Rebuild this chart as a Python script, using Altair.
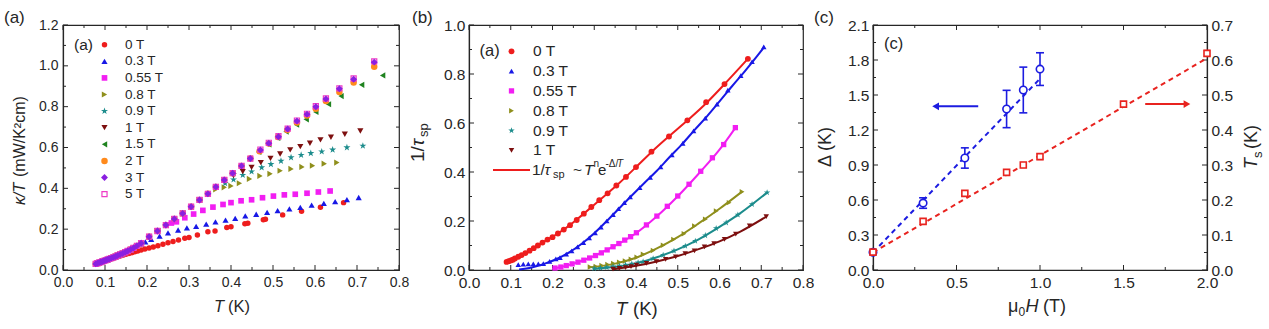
import altair as alt
import pandas as pd

FONT = "Liberation Sans"
FG = "#262626"

# ================= data: panel (a) kappa/T vs T =================
SERIES_A = ["0 T", "0.3 T", "0.55 T", "0.8 T", "0.9 T", "1 T", "1.5 T", "2 T", "3 T", "5 T"]
DRAW_ORDER_A = ["0 T", "0.3 T", "0.55 T", "0.8 T", "0.9 T", "1 T", "1.5 T", "2 T", "5 T", "3 T"]
COLORS = {"0 T": "#ee1d1d", "0.3 T": "#1818e6", "0.55 T": "#f21ef2", "0.8 T": "#8f8f1c",
          "0.9 T": "#1c8c8c", "1 T": "#7d0f0f", "1.5 T": "#1f831f", "2 T": "#ff8a1c",
          "3 T": "#8a1fe0", "5 T": "#ee3cc6"}

# points where the field curves coincide (read once, shared below each curve's departure)
T_SHARED = [0.078, 0.082, 0.086, 0.090, 0.094, 0.098, 0.102, 0.106, 0.110, 0.115, 0.120, 0.125,
            0.130, 0.136, 0.142, 0.148, 0.154, 0.161, 0.168, 0.176, 0.186, 0.205, 0.225, 0.245,
            0.265, 0.285, 0.305, 0.325, 0.345, 0.364, 0.384, 0.404, 0.425, 0.446]
K_SHARED = [0.030, 0.033, 0.036, 0.039, 0.042, 0.045, 0.048, 0.051, 0.054, 0.058, 0.062, 0.066,
            0.071, 0.076, 0.081, 0.087, 0.093, 0.100, 0.108, 0.118, 0.131, 0.163, 0.191, 0.220,
            0.250, 0.277, 0.310, 0.343, 0.373, 0.407, 0.441, 0.474, 0.510, 0.546]
DEPART_A = {"0.3 T": 0.18, "0.55 T": 0.25, "0.8 T": 0.35, "0.9 T": 0.37, "1 T": 0.40,
            "1.5 T": 0.45, "2 T": 0.45, "3 T": 0.45, "5 T": 0.45}

A_T = {
    "0 T": [0.080, 0.084, 0.088, 0.092, 0.096, 0.100, 0.105, 0.110, 0.115, 0.120, 0.126, 0.132,
            0.138, 0.144, 0.150, 0.157, 0.164, 0.171, 0.178, 0.186, 0.195, 0.205, 0.215, 0.226,
            0.238, 0.250, 0.262, 0.275, 0.290, 0.300, 0.320, 0.345, 0.362, 0.390, 0.400, 0.433,
            0.440, 0.477, 0.482, 0.523, 0.568, 0.613, 0.668],
    "0.3 T": [0.186, 0.196, 0.210, 0.230, 0.250, 0.274, 0.295, 0.317, 0.341, 0.363, 0.387, 0.410,
              0.434, 0.460, 0.486, 0.511, 0.539, 0.565, 0.592, 0.621, 0.648, 0.676, 0.704],
    "0.55 T": [0.258, 0.270, 0.290, 0.311, 0.333, 0.357, 0.381, 0.400, 0.424, 0.449, 0.475,
               0.501, 0.527, 0.553, 0.581, 0.608, 0.636],
    "0.8 T": [0.364, 0.384, 0.400, 0.420, 0.444, 0.469, 0.493, 0.517, 0.543, 0.569, 0.594,
              0.622, 0.652],
    "0.9 T": [0.386, 0.406, 0.428, 0.449, 0.473, 0.495, 0.519, 0.543, 0.567, 0.590, 0.616,
              0.642, 0.676, 0.714],
    "1 T": [0.406, 0.428, 0.449, 0.471, 0.494, 0.517, 0.541, 0.565, 0.588, 0.613, 0.638,
            0.671, 0.708],
    "1.5 T": [0.466, 0.490, 0.511, 0.531, 0.556, 0.579, 0.602, 0.632, 0.662, 0.711, 0.761],
    "2 T": [0.468, 0.490, 0.512, 0.534, 0.557, 0.581, 0.602, 0.626, 0.658, 0.692, 0.741],
    "3 T": [0.470, 0.490, 0.513, 0.535, 0.557, 0.581, 0.602, 0.626, 0.658, 0.692, 0.741],
    "5 T": [0.470, 0.490, 0.513, 0.535, 0.557, 0.581, 0.602, 0.626, 0.658, 0.692, 0.741],
}
A_K = {
    "0 T": [0.030, 0.033, 0.036, 0.039, 0.042, 0.045, 0.048, 0.052, 0.055, 0.058, 0.062, 0.066,
            0.070, 0.073, 0.077, 0.081, 0.085, 0.089, 0.093, 0.098, 0.103, 0.108, 0.113, 0.119,
            0.126, 0.133, 0.140, 0.147, 0.155, 0.159, 0.171, 0.187, 0.191, 0.208, 0.212, 0.227,
            0.229, 0.246, 0.249, 0.270, 0.288, 0.307, 0.330],
    "0.3 T": [0.128, 0.138, 0.150, 0.166, 0.182, 0.196, 0.206, 0.214, 0.225, 0.236, 0.244, 0.253,
              0.265, 0.273, 0.282, 0.291, 0.299, 0.307, 0.318, 0.326, 0.335, 0.345, 0.355],
    "0.55 T": [0.230, 0.236, 0.256, 0.274, 0.292, 0.308, 0.321, 0.330, 0.339, 0.344, 0.354,
               0.362, 0.368, 0.371, 0.376, 0.382, 0.387],
    "0.8 T": [0.395, 0.405, 0.412, 0.425, 0.446, 0.461, 0.471, 0.486, 0.495, 0.505, 0.511,
              0.521, 0.526],
    "0.9 T": [0.425, 0.443, 0.465, 0.482, 0.502, 0.518, 0.534, 0.551, 0.563, 0.572, 0.580,
              0.589, 0.600, 0.608],
    "1 T": [0.462, 0.482, 0.503, 0.526, 0.547, 0.568, 0.588, 0.604, 0.621, 0.637, 0.650,
            0.665, 0.681],
    "1.5 T": [0.578, 0.615, 0.647, 0.678, 0.712, 0.738, 0.774, 0.812, 0.852, 0.907, 0.953],
    "2 T": [0.582, 0.619, 0.651, 0.686, 0.723, 0.757, 0.790, 0.828, 0.872, 0.918, 0.995],
    "3 T": [0.588, 0.621, 0.653, 0.691, 0.730, 0.763, 0.800, 0.838, 0.888, 0.934, 1.018],
    "5 T": [0.590, 0.623, 0.655, 0.692, 0.732, 0.765, 0.802, 0.840, 0.890, 0.938, 1.022],
}

# ================= data: panel (b) 1/tau_sp vs T =================
SERIES_B = ["0 T", "0.3 T", "0.55 T", "0.8 T", "0.9 T", "1 T"]
B_T = {
    "0 T": [0.090, 0.095, 0.100, 0.105, 0.110, 0.118, 0.126, 0.135, 0.145, 0.155, 0.165, 0.176,
            0.188, 0.200, 0.213, 0.227, 0.242, 0.258, 0.275, 0.293, 0.312, 0.332, 0.353, 0.376,
            0.400, 0.437, 0.479, 0.523, 0.568, 0.612, 0.668],
    "0.3 T": [0.118, 0.130, 0.142, 0.154, 0.166, 0.178, 0.193, 0.208, 0.218, 0.233, 0.246, 0.260,
              0.274, 0.288, 0.302, 0.316, 0.330, 0.345, 0.358, 0.372, 0.386, 0.409, 0.434, 0.459,
              0.486, 0.512, 0.538, 0.566, 0.594, 0.620, 0.651, 0.678, 0.706],
    "0.55 T": [0.206, 0.220, 0.233, 0.247, 0.261, 0.275, 0.289, 0.303, 0.317, 0.331, 0.345, 0.359,
               0.373, 0.387, 0.401, 0.425, 0.450, 0.475, 0.500, 0.527, 0.555, 0.583, 0.610, 0.638],
    "0.8 T": [0.290, 0.304, 0.318, 0.332, 0.346, 0.360, 0.374, 0.388, 0.402, 0.417, 0.441, 0.465,
              0.490, 0.515, 0.540, 0.566, 0.592, 0.623, 0.654],
    "0.9 T": [0.300, 0.315, 0.330, 0.345, 0.360, 0.375, 0.390, 0.405, 0.417, 0.441, 0.465, 0.491,
              0.518, 0.542, 0.566, 0.592, 0.616, 0.644, 0.678, 0.714],
    "1 T": [0.345, 0.360, 0.375, 0.388, 0.401, 0.425, 0.449, 0.471, 0.495, 0.518, 0.540, 0.564,
            0.587, 0.612, 0.639, 0.672, 0.712],
}
B_Y = {
    "0 T": [0.033, 0.036, 0.039, 0.042, 0.047, 0.054, 0.061, 0.069, 0.079, 0.089, 0.100, 0.112,
            0.124, 0.134, 0.149, 0.165, 0.183, 0.204, 0.230, 0.257, 0.285, 0.313, 0.345, 0.380,
            0.420, 0.483, 0.545, 0.611, 0.685, 0.759, 0.862],
    "0.3 T": [0.022, 0.024, 0.025, 0.025, 0.025, 0.026, 0.035, 0.045, 0.051, 0.065, 0.078, 0.094,
              0.112, 0.131, 0.152, 0.175, 0.200, 0.226, 0.250, 0.275, 0.298, 0.336, 0.378, 0.421,
              0.470, 0.517, 0.568, 0.620, 0.677, 0.734, 0.793, 0.850, 0.911],
    "0.55 T": [0.008, 0.012, 0.018, 0.025, 0.032, 0.040, 0.049, 0.059, 0.070, 0.082, 0.095, 0.108,
               0.122, 0.136, 0.152, 0.184, 0.220, 0.260, 0.302, 0.350, 0.403, 0.458, 0.512, 0.581],
    "0.8 T": [0.012, 0.014, 0.018, 0.022, 0.027, 0.032, 0.037, 0.044, 0.052, 0.064, 0.080, 0.101,
              0.125, 0.148, 0.180, 0.207, 0.241, 0.275, 0.319],
    "0.9 T": [0.006, 0.008, 0.011, 0.014, 0.017, 0.021, 0.025, 0.030, 0.034, 0.047, 0.061, 0.078,
              0.098, 0.118, 0.141, 0.170, 0.193, 0.225, 0.268, 0.316],
    "1 T": [0.004, 0.007, 0.010, 0.014, 0.020, 0.027, 0.034, 0.043, 0.054, 0.067, 0.078, 0.094,
            0.108, 0.125, 0.146, 0.180, 0.218],
}
FIT_T = {
    "0 T": [0.090, 0.120, 0.150, 0.180, 0.210, 0.240, 0.270, 0.300, 0.330, 0.360, 0.400, 0.440,
            0.480, 0.520, 0.570, 0.610, 0.668],
    "0.3 T": [0.120, 0.150, 0.180, 0.210, 0.240, 0.270, 0.300, 0.330, 0.360, 0.390, 0.420, 0.450,
              0.480, 0.510, 0.540, 0.570, 0.600, 0.630, 0.660, 0.690, 0.708],
    "0.55 T": [0.200, 0.250, 0.300, 0.350, 0.400, 0.450, 0.500, 0.550, 0.600, 0.638],
    "0.8 T": [0.285, 0.350, 0.400, 0.450, 0.500, 0.550, 0.600, 0.654],
    "0.9 T": [0.300, 0.350, 0.400, 0.450, 0.500, 0.550, 0.600, 0.650, 0.714],
    "1 T": [0.345, 0.400, 0.450, 0.500, 0.550, 0.600, 0.650, 0.712],
}
FIT_Y = {
    "0 T": [0.033, 0.056, 0.084, 0.116, 0.146, 0.181, 0.223, 0.266, 0.310, 0.355, 0.420, 0.486,
            0.547, 0.606, 0.684, 0.755, 0.862],
    "0.3 T": [0.002, 0.010, 0.025, 0.045, 0.072, 0.107, 0.150, 0.200, 0.252, 0.304, 0.355, 0.405,
              0.460, 0.513, 0.571, 0.627, 0.688, 0.750, 0.810, 0.873, 0.912],
    "0.55 T": [0.004, 0.026, 0.057, 0.099, 0.150, 0.219, 0.301, 0.393, 0.491, 0.580],
    "0.8 T": [0.010, 0.026, 0.050, 0.088, 0.134, 0.190, 0.250, 0.320],
    "0.9 T": [0.004, 0.013, 0.027, 0.052, 0.084, 0.125, 0.176, 0.232, 0.316],
    "1 T": [0.003, 0.017, 0.035, 0.057, 0.085, 0.117, 0.157, 0.218],
}

# ================= data: panel (c) Delta and T_s vs mu0 H =================
H_D = [0.0, 0.3, 0.55, 0.8, 0.9, 1.0]
DELTA = [0.152, 0.574, 0.960, 1.380, 1.543, 1.722]
DELTA_ERR = [0.0, 0.045, 0.087, 0.160, 0.196, 0.140]
H_T = [0.0, 0.3, 0.55, 0.8, 0.9, 1.0, 1.5, 2.0]
TS = [0.051, 0.139, 0.219, 0.279, 0.300, 0.324, 0.474, 0.619]
TS_ERR = [0.003, 0.004, 0.007, 0.007, 0.007, 0.008, 0.006, 0.008]
FIT_D_H = [0.0, 1.0]
FIT_D = [0.150, 1.640]
FIT_TS_H = [0.0, 2.0]
FIT_TS = [0.050, 0.605]
ARROW_D = {"h": [0.375, 0.63], "v": 1.403}
ARROW_TS = {"h": [1.63, 1.88], "v": 0.474}
BLUE = "#1c1ce0"
RED = "#e8231f"

# ================= tick values =================
XA_MAJ = [0.0, 0.1, 0.2, 0.3, 0.4, 0.5, 0.6, 0.7, 0.8]
XA_MIN = [0.05, 0.15, 0.25, 0.35, 0.45, 0.55, 0.65, 0.75]
YA_MAJ = [0.0, 0.2, 0.4, 0.6, 0.8, 1.0, 1.2]
YA_MIN = [0.1, 0.3, 0.5, 0.7, 0.9, 1.1]
YB_MAJ = [0.0, 0.2, 0.4, 0.6, 0.8, 1.0]
YB_MIN = [0.1, 0.3, 0.5, 0.7, 0.9]
XC_MAJ = [0.0, 0.5, 1.0, 1.5, 2.0]
XC_MIN = [0.25, 0.75, 1.25, 1.75]
YD_MAJ = [0.0, 0.3, 0.6, 0.9, 1.2, 1.5, 1.8, 2.1]
YD_MIN = [0.15, 0.45, 0.75, 1.05, 1.35, 1.65, 1.95]
YT_MAJ = [0.0, 0.1, 0.2, 0.3, 0.4, 0.5, 0.6, 0.7]

STAR = ("M0,-1L0.224,-0.309L0.951,-0.309L0.363,0.118L0.588,0.809L0,0.382L-0.588,0.809"
        "L-0.363,0.118L-0.951,-0.309L-0.224,-0.309Z")
SHAPES = {"0 T": "circle", "0.3 T": "triangle-up", "0.55 T": "square", "0.8 T": "triangle-right",
          "0.9 T": STAR, "1 T": "triangle-down", "1.5 T": "triangle-left", "2 T": "circle",
          "3 T": "diamond", "5 T": "square"}
SIZE_A = {"0 T": 30, "0.3 T": 38, "0.55 T": 32, "0.8 T": 38, "0.9 T": 55, "1 T": 38,
          "1.5 T": 38, "2 T": 42, "3 T": 48, "5 T": 26}
SIZE_B = {"0 T": 34, "0.3 T": 30, "0.55 T": 28, "0.8 T": 30, "0.9 T": 45, "1 T": 30}

WA, WB, WC, H = 336, 334, 334, 245
ONE = pd.DataFrame({"d": [0]})


def pmark(s, size):
    if s == "5 T":
        return dict(shape=SHAPES[s], filled=False, color=COLORS[s], size=size,
                    strokeWidth=1.2, opacity=1)
    return dict(shape=SHAPES[s], filled=True, color=COLORS[s], size=size, opacity=1,
                strokeWidth=0)


def txt(text, x, y, size, italic=False, angle=0, align="left", color=FG):
    kw = dict(text=text, fontSize=size, font=FONT, align=align, baseline="middle", color=color)
    if italic:
        kw["fontStyle"] = "italic"
    if angle:
        kw["angle"] = angle
    return alt.Chart(ONE).mark_text(**kw).encode(x=alt.value(x), y=alt.value(y))


def ticks(X, Y, xdom, ydom, xmaj, xmin, ymaj, ymin, W, Hh):
    """Inward ticks on all four sides, tick lengths converted to data units."""
    dx = (xdom[1] - xdom[0]) / W
    dy = (ydom[1] - ydom[0]) / Hh
    vrows, hrows = [], []
    for vals, L in ((xmaj, 5), (xmin, 3)):
        for v in vals:
            vrows.append({"x": v, "y": ydom[0], "y2": ydom[0] + L * dy})
            vrows.append({"x": v, "y": ydom[1] - L * dy, "y2": ydom[1]})
    for vals, L in ((ymaj, 5), (ymin, 3)):
        for v in vals:
            hrows.append({"x": xdom[0], "x2": xdom[0] + L * dx, "y": v})
            hrows.append({"x": xdom[1] - L * dx, "x2": xdom[1], "y": v})
    return [
        alt.Chart(pd.DataFrame(vrows)).mark_rule(color=FG, strokeWidth=1, opacity=1).encode(
            x=X, y=Y, y2="y2:Q"),
        alt.Chart(pd.DataFrame(hrows)).mark_rule(color=FG, strokeWidth=1, opacity=1).encode(
            x=X, x2="x2:Q", y=Y),
    ]


def xy(xs, ys):
    return pd.DataFrame({"x": xs, "y": ys})


# ================= panel (a) =================
XA = alt.X("x:Q", title=None, scale=alt.Scale(domain=[0, 0.8], nice=False, zero=False),
           axis=alt.Axis(values=XA_MAJ, format=".1f", labelFontSize=14, labelPadding=5,
                         labelFlush=False))
YA = alt.Y("y:Q", title=None, scale=alt.Scale(domain=[0, 1.2], nice=False),
           axis=alt.Axis(values=YA_MAJ, format=".1f", labelFontSize=14, labelPadding=5))

la = ticks(XA, YA, [0, 0.8], [0, 1.2], XA_MAJ, XA_MIN, YA_MAJ, YA_MIN, WA, H)
for s in DRAW_ORDER_A:
    xs, ys = [], []
    if s in DEPART_A:
        for t, k in zip(T_SHARED, K_SHARED):
            if t < DEPART_A[s]:
                xs.append(t)
                ys.append(k)
    xs += A_T[s]
    ys += A_K[s]
    la.append(alt.Chart(xy(xs, ys)).mark_point(**pmark(s, SIZE_A[s])).encode(x=XA, y=YA))
la.append(txt("(a)", 11, 19.5, 15.5))
for i, s in enumerate(SERIES_A):
    yy = 19.7 + 16.6 * i
    la.append(alt.Chart(ONE).mark_point(**pmark(s, SIZE_A[s])).encode(
        x=alt.value(41.5), y=alt.value(yy)))
    la.append(txt(s, 62, yy, 13.5))
la.append(txt("(a)", -59, -7.5, 17))
la.append(txt("κ/T", -43, 180, 16, italic=True, angle=270))
la.append(txt("(mW/K²cm)", -43, 152, 16, angle=270))
la.append(txt("T", 151, 281.5, 16.5, italic=True))
la.append(txt("(K)", 165, 281.5, 16.5))
panel_a = alt.layer(*la).properties(width=WA, height=H)

# ================= panel (b) =================
XB = alt.X("x:Q", title=None, scale=alt.Scale(domain=[0, 0.8], nice=False, zero=False),
           axis=alt.Axis(values=XA_MAJ, format=".1f", labelFontSize=15.5, labelPadding=5,
                         labelFlush=False))
YB = alt.Y("y:Q", title=None, scale=alt.Scale(domain=[0, 1.0], nice=False),
           axis=alt.Axis(values=YB_MAJ, format=".1f", labelFontSize=15.5, labelPadding=4))

lb = ticks(XB, YB, [0, 0.8], [0, 1.0], XA_MAJ, XA_MIN, YB_MAJ, YB_MIN, WB, H)
for s in SERIES_B:
    lb.append(alt.Chart(xy(FIT_T[s], FIT_Y[s])).mark_line(
        color=COLORS[s], strokeWidth=2, interpolate="monotone").encode(x=XB, y=YB))
    lb.append(alt.Chart(xy(B_T[s], B_Y[s])).mark_point(**pmark(s, SIZE_B[s])).encode(x=XB, y=YB))
lb.append(txt("(a)", 10.5, 26, 16.5))
for i, s in enumerate(SERIES_B):
    yy = 26.3 + 19.8 * i
    lb.append(alt.Chart(ONE).mark_point(**pmark(s, SIZE_B[s])).encode(
        x=alt.value(42.5), y=alt.value(yy)))
    lb.append(txt(s, 64, yy, 15.5))
yf = 26.3 + 19.8 * 6
lb.append(alt.Chart(ONE).mark_rule(color=COLORS["0 T"], strokeWidth=2).encode(
    x=alt.value(24), x2=alt.value(61), y=alt.value(yf)))
lb.append(txt("1/", 63, yf, 15.5))
lb.append(txt("τ", 75.5, yf, 15.5, italic=True))
lb.append(txt("sp", 84, yf + 5, 11))
lb.append(txt("~", 104, yf, 15.5))
lb.append(txt("T", 115, yf, 15.5, italic=True))
lb.append(txt("n", 124.5, yf - 6, 10))
lb.append(txt("e", 129, yf, 15))
lb.append(txt("-Δ/", 136.5, yf - 6, 10))
lb.append(txt("T", 148, yf - 6, 10, italic=True))
lb.append(txt("(b)", -57, -7.5, 17))
lb.append(txt("1/", -51, 137, 19, angle=270))
lb.append(txt("τ", -51, 121, 19, italic=True, angle=270))
lb.append(txt("sp", -45, 112, 13, angle=270))
lb.append(txt("T", 147, 283.5, 18.5, italic=True))
lb.append(txt("(K)", 164, 283.5, 18.5))
panel_b = alt.layer(*lb).properties(width=WB, height=H)

# ================= panel (c) =================
XC = alt.X("x:Q", title=None, scale=alt.Scale(domain=[0, 2.0], nice=False, zero=False),
           axis=alt.Axis(values=XC_MAJ, format=".1f", labelFontSize=15.5, labelPadding=5,
                         labelFlush=False))
YD = alt.Y("y:Q", title=None, scale=alt.Scale(domain=[0, 2.1], nice=False),
           axis=alt.Axis(values=YD_MAJ, format=".1f", labelFontSize=15.5, labelPadding=4))
YT = alt.Y("y:Q", title=None, scale=alt.Scale(domain=[0, 0.7], nice=False),
           axis=alt.Axis(values=YT_MAJ, format=".1f", labelFontSize=15.5, labelPadding=4,
                         orient="right"))

d_lo = [v - e for v, e in zip(DELTA, DELTA_ERR)]
d_hi = [v + e for v, e in zip(DELTA, DELTA_ERR)]
d_err = pd.DataFrame({"x": H_D, "y": d_lo, "y2": d_hi})
d_err = d_err[d_err["y2"] > d_err["y"]]
caps_d = pd.DataFrame({"x": list(d_err["x"]) * 2, "y": list(d_err["y"]) + list(d_err["y2"])})

lcd = ticks(XC, YD, [0, 2.0], [0, 2.1], XC_MAJ, XC_MIN, YD_MAJ, YD_MIN, WC, H)
lcd.append(alt.Chart(xy(FIT_D_H, FIT_D)).mark_line(color=BLUE, strokeWidth=2,
                                                   strokeDash=[5, 4]).encode(x=XC, y=YD))
lcd.append(alt.Chart(d_err).mark_rule(color=BLUE, strokeWidth=1.6).encode(
    x=XC, y=YD, y2="y2:Q"))
lcd.append(alt.Chart(caps_d).mark_point(shape="stroke", size=64, color=BLUE, strokeWidth=1.6,
                                        opacity=1).encode(x=XC, y=YD))
lcd.append(alt.Chart(xy(H_D, DELTA)).mark_point(shape="circle", size=55, filled=True,
                                                fill="white", stroke=BLUE, strokeWidth=1.6,
                                                opacity=1).encode(x=XC, y=YD))
ad = pd.DataFrame({"x": [ARROW_D["h"][0]], "x2": [ARROW_D["h"][1]], "y": [ARROW_D["v"]]})
lcd.append(alt.Chart(ad).mark_rule(color=BLUE, strokeWidth=2).encode(x=XC, x2="x2:Q", y=YD))
lcd.append(alt.Chart(ad).mark_point(shape="triangle-left", filled=True, color=BLUE, size=60,
                                    opacity=1).encode(x=XC, y=YD))
lcd.append(txt("(c)", 11, 19, 16.5))
lcd.append(txt("(c)", -59, -7.5, 17))
lcd.append(txt("Δ (K)", -47, 122, 18, angle=270, align="center"))
lcd.append(txt("μ", 135, 282, 18))
lcd.append(txt("0", 145.5, 287, 12))
lcd.append(txt("H", 152.5, 282, 18, italic=True))
lcd.append(txt("(T)", 170, 282, 18))
lcd.append(txt("T", WC + 45, 144, 18, italic=True, angle=270))
lcd.append(txt("s", WC + 51, 133, 13, angle=270))
lcd.append(txt("(K)", WC + 45, 124, 18, angle=270))
group_d = alt.layer(*lcd)

t_lo = [v - e for v, e in zip(TS, TS_ERR)]
t_hi = [v + e for v, e in zip(TS, TS_ERR)]
t_err = pd.DataFrame({"x": H_T, "y": t_lo, "y2": t_hi})
caps_t = pd.DataFrame({"x": H_T * 2, "y": t_lo + t_hi})
lct = [
    alt.Chart(xy(FIT_TS_H, FIT_TS)).mark_line(color=RED, strokeWidth=2,
                                              strokeDash=[5, 4]).encode(x=XC, y=YT),
    alt.Chart(t_err).mark_rule(color=RED, strokeWidth=1.4).encode(x=XC, y=YT, y2="y2:Q"),
    alt.Chart(caps_t).mark_point(shape="stroke", size=40, color=RED, strokeWidth=1.4,
                                 opacity=1).encode(x=XC, y=YT),
    alt.Chart(xy(H_T, TS)).mark_point(shape="square", size=36, filled=True, fill="white",
                                      stroke=RED, strokeWidth=1.6, opacity=1).encode(x=XC, y=YT),
]
at = pd.DataFrame({"x": [ARROW_TS["h"][0]], "x2": [ARROW_TS["h"][1]], "y": [ARROW_TS["v"]]})
lct.append(alt.Chart(at).mark_rule(color=RED, strokeWidth=2).encode(x=XC, x2="x2:Q", y=YT))
at2 = pd.DataFrame({"x": [ARROW_TS["h"][1]], "y": [ARROW_TS["v"]]})
lct.append(alt.Chart(at2).mark_point(shape="triangle-right", filled=True, color=RED, size=60,
                                     opacity=1).encode(x=XC, y=YT))
group_t = alt.layer(*lct)

panel_c = alt.layer(group_d, group_t).resolve_scale(y="independent").properties(
    width=WC, height=H)

chart = alt.hconcat(panel_a, panel_b, panel_c, spacing=70, bounds="flush").properties(
    padding={"left": 3, "top": 7, "right": 0, "bottom": 0},
    background="white",
).configure_view(stroke=FG, strokeWidth=1.2).configure_axis(
    domain=True, domainColor=FG, domainWidth=1.2, ticks=False, tickSize=0, grid=False,
    labelFont=FONT, labelColor=FG,
)

chart.save("out.html", embed_options={"renderer": "svg", "actions": False})
